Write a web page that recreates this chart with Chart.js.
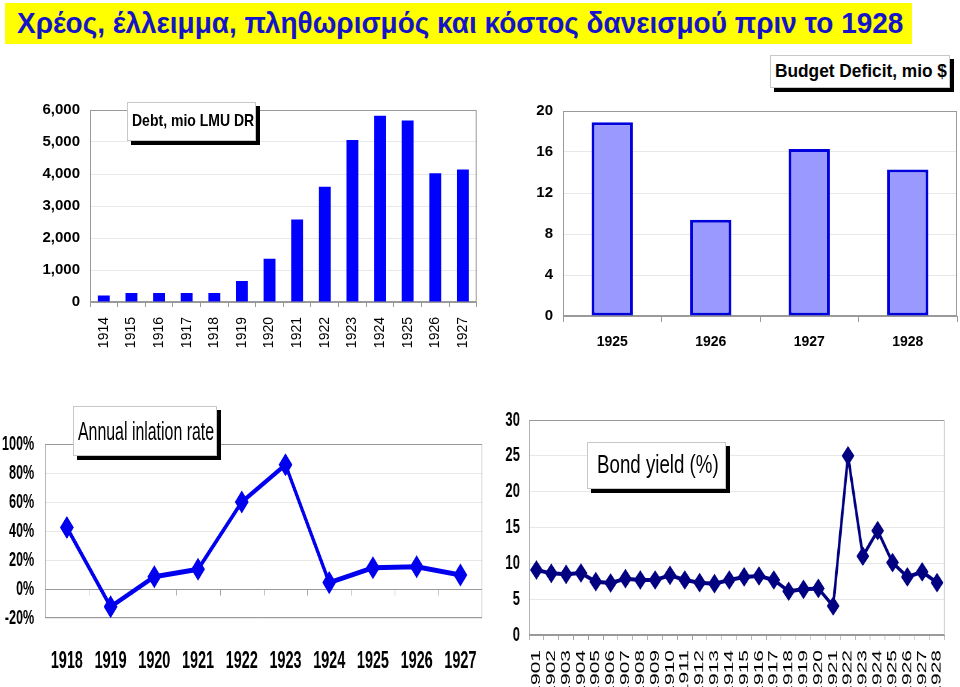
<!DOCTYPE html>
<html>
<head>
<meta charset="utf-8">
<script src="https://cdn.jsdelivr.net/npm/chart.js@4"></script>
<style>
body { margin:0; background:#fff; width:960px; height:687px; overflow:hidden; position:relative; font-family:"Liberation Sans", Arial, sans-serif; }
.title { position:absolute; left:5px; top:3px; width:907px; height:41px; background:#ffff00; }
.title span { position:absolute; left:12px; top:2px; font-size:30px; line-height:36px; font-weight:bold; color:#1414c8; white-space:nowrap; transform-origin:left top; }
.box { position:absolute; background:#fff; border:1px solid #c8c8c8; box-shadow:4px 4px 0 #000; white-space:nowrap; }
.box span { position:absolute; left:4px; white-space:nowrap; transform-origin:left top; color:#000; }
.chart { position:absolute; }
.sq { transform-origin:left top; }
</style>
</head>
<body>
<div class="title"><span data-w="886">Χρέος, έλλειμμα, πληθωρισμός και κόστος δανεισμού πριν το 1928</span></div>

<div class="chart" style="left:0;top:100px;width:490px;height:260px"><canvas id="debt"></canvas></div>
<div class="chart" style="left:490px;top:100px;width:470px;height:260px"><canvas id="deficit"></canvas></div>
<!-- the lower two are drawn wider and squeezed, like the narrow lettering of the original -->
<div class="chart sq" style="left:0;top:400px;width:817px;height:287px;transform:scaleX(0.5998)"><canvas id="inflation"></canvas></div>
<div class="chart sq" style="left:490px;top:400px;width:723px;height:287px;transform:scaleX(0.6501)"><canvas id="bond"></canvas></div>

<div class="box" style="left:770px;top:55px;width:178px;height:31px"><span data-w="172" style="top:4px;font:bold 19px 'Liberation Sans'">Budget Deficit, mio $</span></div>
<div class="box" style="left:127px;top:102px;width:127px;height:37px"><span data-w="122" style="top:8px;font:bold 17px 'Liberation Sans'">Debt, mio LMU DR</span></div>
<div class="box" style="left:73px;top:406px;width:142px;height:48px"><span data-w="136" style="top:10px;font:25px 'Liberation Sans'">Annual inlation rate</span></div>
<div class="box" style="left:587px;top:442px;width:137px;height:45px"><span data-w="122" style="left:9px;top:7px;font:25px 'Liberation Sans'">Bond yield (%)</span></div>

<script>
// Debt, mio LMU DR
const debtYears = ["1914","1915","1916","1917","1918","1919","1920","1921","1922","1923","1924","1925","1926","1927"];
const debtValues = [200, 280, 280, 280, 280, 660, 1350, 2580, 3600, 5060, 5820, 5670, 4020, 4140];

// Budget deficit, mio $
const deficitYears = ["1925","1926","1927","1928"];
const deficitValues = [18.9, 9.4, 16.3, 14.3];

// Annual inflation rate (%)
const inflYears = ["1918","1919","1920","1921","1922","1923","1924","1925","1926","1927"];
const inflValues = [42.4, -12.2, 8.5, 13.6, 60, 85.7, 4.4, 14.7, 15.4, 9.7];

// Bond yield (%)
const bondYears = ["1901","1902","1903","1904","1905","1906","1907","1908","1909","1910","1911","1912","1913","1914",
  "1915","1916","1917","1918","1919","1920","1921","1922","1923","1924","1925","1926","1927","1928"];
const bondValues = [9.07, 8.6, 8.47, 8.65, 7.44, 7.26, 7.86, 7.67, 7.67, 8.33, 7.67, 7.3, 7.16, 7.67,
  8.1, 8.23, 7.67, 6.1, 6.37, 6.5, 4.05, 25, 11.0, 14.56, 10.1, 8.1, 8.8, 7.3];

Chart.defaults.font.family = "'Liberation Sans', Arial, sans-serif";
Chart.defaults.color = '#000';
Chart.defaults.animation = false;
Chart.defaults.plugins.legend.display = false;
Chart.defaults.plugins.tooltip.enabled = false;

// gray frame round the plot, optional axis line at zero with tick marks
const frame = {
  id: 'frame',
  beforeDatasetsDraw(chart, args, opts) {
    const ctx = chart.ctx, a = chart.chartArea;
    ctx.save();
    ctx.strokeStyle = '#9a9a9a';
    ctx.lineWidth = 1;
    ctx.strokeRect(a.left + 0.5, a.top + 0.5, a.width - 1, a.height - 1);
    if (opts.zero) {
      const y = Math.round(chart.scales.y.getPixelForValue(0)) + 0.5;
      const xs = chart.scales.x;
      const n = xs.ticks.length;
      const step = a.width / n;
      ctx.beginPath();
      ctx.moveTo(a.left, y); ctx.lineTo(a.right, y);
      for (let i = 1; i < n; i++) {
        const x = Math.round(xs.getPixelForValue(i) - step / 2) + 0.5;
        ctx.moveTo(x, y); ctx.lineTo(x, y + 6);
      }
      ctx.stroke();
    }
    ctx.restore();
  }
};

// y grid: light lines, room for the labels kept by an invisible tick
const yGrid = len => ({ color: '#e8e8e8', tickLength: len, tickColor: 'rgba(0,0,0,0)' });

new Chart(document.getElementById('debt'), {
  type: 'bar',
  data: { labels: debtYears, datasets: [{ data: debtValues, backgroundColor: '#0000ff', categoryPercentage: 1, barPercentage: 0.43 }] },
  options: {
    responsive: true, maintainAspectRatio: false,
    layout: { padding: { top: 10, right: 8, left: 0, bottom: 0 } },
    scales: {
      x: {
        grid: { drawOnChartArea: false, tickLength: 5, color: '#9a9a9a' },
        border: { color: '#9a9a9a' },
        ticks: { minRotation: 90, maxRotation: 90, padding: 10, font: { size: 14 } },
        afterFit: s => { s.height = 58; }
      },
      y: {
        min: 0, max: 6000,
        grid: yGrid(10), border: { color: '#9a9a9a' },
        ticks: { stepSize: 1000, padding: 0, font: { size: 15, weight: 'bold' },
          callback: v => v.toLocaleString('en-US') },
        afterFit: s => { s.width = 90; }
      }
    }
  },
  plugins: [frame]
});

new Chart(document.getElementById('deficit'), {
  type: 'bar',
  data: { labels: deficitYears, datasets: [{ data: deficitValues, backgroundColor: '#9999ff', borderColor: '#0000dd', borderWidth: 3, borderSkipped: false, categoryPercentage: 1, barPercentage: 0.42 }] },
  options: {
    responsive: true, maintainAspectRatio: false,
    layout: { padding: { top: 11, right: 3, left: 0, bottom: 0 } },
    scales: {
      x: {
        grid: { drawOnChartArea: false, tickLength: 6, color: '#9a9a9a' },
        border: { color: '#9a9a9a' },
        ticks: { padding: 12, font: { size: 14, weight: 'bold' } },
        afterFit: s => { s.height = 44; }
      },
      y: {
        min: 0, max: 20,
        grid: yGrid(10), border: { color: '#9a9a9a' },
        ticks: { stepSize: 4, padding: 0, font: { size: 15, weight: 'bold' } },
        afterFit: s => { s.width = 73; }
      }
    }
  },
  plugins: [frame]
});

new Chart(document.getElementById('inflation'), {
  type: 'line',
  data: { labels: inflYears, datasets: [{ data: inflValues, borderColor: '#0000ee', backgroundColor: '#0000ee', borderWidth: 5, pointStyle: 'rectRot', pointRadius: 8, tension: 0 }] },
  options: {
    responsive: true, maintainAspectRatio: false,
    layout: { padding: { top: 44, right: 12, left: 0, bottom: 0 } },
    scales: {
      x: {
        offset: true,
        grid: { display: false },
        border: { display: false },
        ticks: { padding: 21, maxRotation: 0, font: { size: 24, weight: 'bold' } },
        afterFit: s => { s.height = 69; }
      },
      y: {
        min: -20, max: 100,
        grid: yGrid(18), border: { display: false },
        ticks: { stepSize: 20, padding: 0, autoSkip: false, font: { size: 21, weight: 'bold' }, callback: v => v + '%' },
        afterFit: s => { s.width = 75; }
      }
    },
    plugins: { frame: { zero: true } }
  },
  plugins: [frame]
});

new Chart(document.getElementById('bond'), {
  type: 'line',
  data: { labels: bondYears, datasets: [{ data: bondValues, borderColor: '#000080', backgroundColor: '#000080', borderWidth: 4, pointStyle: 'rectRot', pointRadius: 7, tension: 0 }] },
  options: {
    responsive: true, maintainAspectRatio: false,
    layout: { padding: { top: 20, right: 8, left: 0, bottom: 0 } },
    scales: {
      x: {
        offset: true,
        grid: { drawOnChartArea: false, offset: true, tickLength: 5, color: '#9a9a9a' },
        border: { color: '#9a9a9a' },
        ticks: { minRotation: 90, maxRotation: 90, autoSkip: false, padding: 10, font: { size: 21 } },
        afterFit: s => { s.height = 52; }
      },
      y: {
        min: 0, max: 30,
        grid: yGrid(14), border: { color: '#9a9a9a' },
        ticks: { stepSize: 5, padding: 0, autoSkip: false, font: { size: 20, weight: 'bold' } },
        afterFit: s => { s.width = 60; }
      }
    }
  },
  plugins: [frame]
});

// squeeze the texts to the widths of the original
document.querySelectorAll('span[data-w]').forEach(s => {
  s.style.transform = 'scaleX(' + (s.dataset.w / s.offsetWidth) + ')';
});
</script>
</body>
</html>
